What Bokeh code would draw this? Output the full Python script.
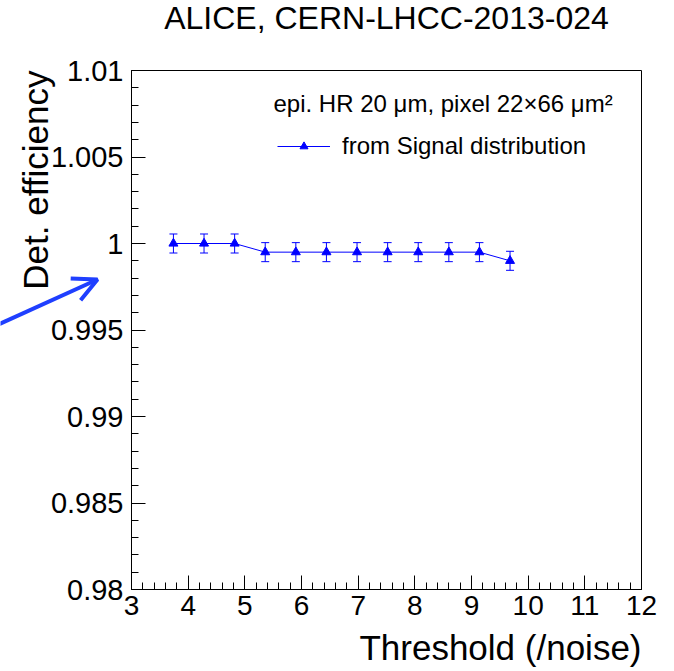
from bokeh.plotting import figure
from bokeh.models import (Range1d, FixedTicker, CustomJSTickFormatter, ColumnDataSource,
                          Whisker, TeeHead, Legend, LegendItem, Label, Arrow, OpenHead, Title)
from bokeh.embed import file_html
from bokeh.resources import INLINE

# ---- data ----
threshold = [3.74, 4.28, 4.82, 5.36, 5.90, 6.44, 6.98, 7.52, 8.06, 8.60, 9.14, 9.68]
efficiency = [1.0, 1.0, 1.0, 0.9995, 0.9995, 0.9995, 0.9995, 0.9995, 0.9995, 0.9995, 0.9995, 0.999]
eff_error = [0.00055, 0.00055, 0.00055, 0.00055, 0.00055, 0.00055, 0.00055, 0.00055, 0.00055, 0.00055, 0.00055, 0.00055]

x_ticks = [3, 4, 5, 6, 7, 8, 9, 10, 11, 12]
y_ticks = [0.98, 0.985, 0.99, 0.995, 1.0, 1.005, 1.01]
y_tick_labels = ["0.98", "0.985", "0.99", "0.995", "1", "1.005", "1.01"]

title_text = "ALICE, CERN-LHCC-2013-024"
x_label = "Threshold (/noise)"
y_label = "Det. efficiency"
note_text = "epi. HR 20 \u03bcm, pixel 22\u00d766 \u03bcm\u00b2"
series_label = "from Signal distribution"

FONT = "Liberation Sans"
BLUE = "#0000ff"
ARROW_BLUE = "#1f3fff"
W, H = 674, 671

p = figure(width=W, height=H, output_backend="svg", toolbar_location=None,
           x_range=Range1d(3, 12), y_range=Range1d(0.98, 1.01),
           min_border_left=131, min_border_right=33, min_border_top=70, min_border_bottom=82,
           background_fill_color="white", border_fill_color="white")
p.grid.visible = False
p.outline_line_color = "black"
p.outline_line_width = 1

# ticks
x_minor = [3 + 0.2 * i for i in range(46)]
y_minor = [0.98 + 0.001 * i for i in range(31)]
p.xaxis.ticker = FixedTicker(ticks=x_ticks, minor_ticks=x_minor)
p.yaxis.ticker = FixedTicker(ticks=y_ticks, minor_ticks=y_minor)
p.yaxis.formatter = CustomJSTickFormatter(args=dict(vals=y_ticks, labs=y_tick_labels), code="""
for (let i = 0; i < vals.length; i++) { if (Math.abs(tick - vals[i]) < 1e-9) return labs[i]; }
return '';
""")
for ax in (p.xaxis[0], p.yaxis[0]):
    ax.major_tick_in = 14
    ax.major_tick_out = 0
    ax.minor_tick_in = 7
    ax.minor_tick_out = 0
    ax.major_tick_line_color = "black"
    ax.minor_tick_line_color = "black"
    ax.axis_line_color = "black"
    ax.major_label_text_font = FONT
    ax.major_label_text_font_size = "28px"
    ax.major_label_text_color = "black"
p.yaxis.major_label_text_font_size = "29px"
p.xaxis.major_label_standoff = 6
p.yaxis.major_label_standoff = 8

# y-axis label, ROOT-style (aligned to the top of the axis)
p.add_layout(Title(text=y_label, align="right", text_font=FONT, text_font_size="35px",
                   text_font_style="normal", text_color="black", standoff=-15), "left")

# data
src = ColumnDataSource(dict(x=threshold, y=efficiency,
                            lo=[e - d for e, d in zip(efficiency, eff_error)],
                            hi=[e + d for e, d in zip(efficiency, eff_error)]))
wh = Whisker(base="x", lower="lo", upper="hi", source=src, line_color=BLUE, line_width=1,
             upper_head=TeeHead(size=8, line_color=BLUE, line_width=1),
             lower_head=TeeHead(size=8, line_color=BLUE, line_width=1))
p.add_layout(wh)
lr = p.line("x", "y", source=src, line_color=BLUE, line_width=1)
sr = p.scatter("x", "y", source=src, marker="triangle", size=9,
               fill_color=BLUE, line_color=BLUE)

legend = Legend(items=[LegendItem(label=series_label, renderers=[lr, sr])],
                location=(146, 429), glyph_width=53, glyph_height=20,
                label_text_font=FONT, label_text_font_size="24px", label_standoff=12,
                label_text_color="black",
                padding=0, margin=0, spacing=0, border_line_alpha=0, background_fill_alpha=0)
p.add_layout(legend, "center")

p.add_layout(Label(x=5.506, y=1.00809, text=note_text, text_font=FONT, text_font_size="24px",
                   text_color="black", text_baseline="middle", text_align="left"))

# transparent overlay canvas in page-pixel coordinates: title, x label and the pointing arrow
p2 = figure(width=W, height=H, output_backend="svg", toolbar_location=None, title=None,
            x_range=Range1d(0, W), y_range=Range1d(H, 0),
            x_axis_location=None, y_axis_location=None,
            min_border=0, background_fill_alpha=0, border_fill_alpha=0)
p2.outline_line_color = None
p2.grid.visible = False
p2.styles = {"position": "absolute", "left": "0px", "top": "0px", "pointer-events": "none"}
p2.add_layout(Label(x=386, y=17, text=title_text, text_font=FONT, text_font_size="32px",
                    text_color="black", text_align="center", text_baseline="alphabetic"))
p2.add_layout(Label(x=641, y=647, text=x_label, text_font=FONT, text_font_size="35px",
                    text_color="black", text_align="right", text_baseline="alphabetic"))
p2.add_layout(Arrow(x_start=-5, y_start=325.3, x_end=97, y_end=279,
                    line_color=ARROW_BLUE, line_width=4,
                    end=OpenHead(size=24, line_color=ARROW_BLUE, line_width=4)))

open("out.html", "w").write(file_html([p, p2], INLINE))
